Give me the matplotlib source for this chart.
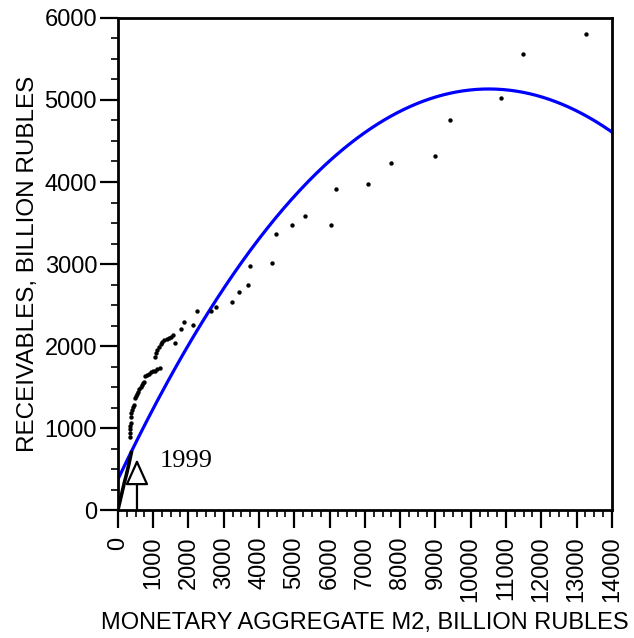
import matplotlib.pyplot as plt
import numpy as np
from matplotlib.ticker import MultipleLocator

# early 1990s observations, drawn as a thick connected trace
early_m2 = [0, 60, 120, 180, 240, 300, 350, 380]
early_recv = [0, 110, 220, 330, 430, 540, 640, 700]

# later observations (scatter)
m2 = [350, 350, 355, 355, 360, 370, 380, 395, 420, 445,
      490, 520, 550, 580, 610, 650, 690, 720, 740,
      780, 830, 880, 940, 1000, 1060, 1120, 1190,
      1050, 1070, 1100,
      1160, 1210, 1260, 1320, 1380, 1440, 1500, 1560, 1620,
      1780, 1860, 2130, 2240, 2640, 2770, 3220, 3430, 3690, 3730,
      4360, 4480, 4930, 5290, 6050, 6170, 7090, 7750, 8980, 9410,
      10850, 11490, 13260]
receivables = [890, 940, 990, 1030, 1060, 1140, 1180, 1220, 1260, 1285,
               1360, 1390, 1420, 1440, 1470, 1500, 1520, 1545, 1565,
               1630, 1650, 1660, 1680, 1690, 1700, 1720, 1730,
               1870, 1910, 1950,
               1990, 2020, 2050, 2070, 2090, 2100, 2110, 2130, 2040,
               2210, 2290, 2260, 2430, 2430, 2470, 2540, 2660, 2750, 2980,
               3010, 3370, 3470, 3580, 3480, 3910, 3980, 4230, 4320, 4750,
               5030, 5560, 5800]

# quadratic trend (highest power first)
trend_coef = [-4.308e-5, 0.9057, 374]

# annotation
mark_label = "1999"
mark_x = 540
mark_tip = 620

plt.rcParams['font.family'] = ['Liberation Sans', 'DejaVu Sans']

fig = plt.figure(figsize=(6.34, 6.38), dpi=100)
ax = fig.add_axes([0.186, 0.2006, 0.779, 0.7712])

xs = np.linspace(0, 14000, 300)
ax.plot(xs, np.polyval(trend_coef, xs), color='#0000ff', lw=2.3, zorder=2)
ax.plot(early_m2, early_recv, color='black', lw=2.6, zorder=3)
ax.scatter(m2, receivables, s=10, color='black', zorder=3, linewidths=0)

ax.annotate('', xy=(mark_x, mark_tip), xytext=(mark_x, 0),
            arrowprops=dict(arrowstyle='-|>,head_length=1.6,head_width=0.72',
                            mutation_scale=10, fc='white', ec='black', lw=1.6,
                            shrinkA=0, shrinkB=0), zorder=4)
ax.text(1190, 524, mark_label, family='Liberation Serif', fontsize=19,
        ha='left', va='baseline')

ax.set_xlim(0, 14000)
ax.set_ylim(0, 6000)
ax.xaxis.set_major_locator(MultipleLocator(1000))
ax.xaxis.set_minor_locator(MultipleLocator(250))
ax.yaxis.set_major_locator(MultipleLocator(1000))
ax.yaxis.set_minor_locator(MultipleLocator(250))
ax.tick_params(which='major', length=13, width=1.6, labelsize=17, direction='out')
ax.tick_params(which='minor', length=5, width=1.2, direction='out')
ax.tick_params(axis='y', which='major', pad=2)
ax.tick_params(axis='x', which='major', pad=6, labelrotation=90)

for sp in ax.spines.values():
    sp.set_linewidth(2)

ax.set_xlabel('MONETARY AGGREGATE M2, BILLION RUBLES', fontsize=17, labelpad=7)
ax.set_ylabel('RECEIVABLES, BILLION RUBLES', fontsize=17.5, labelpad=4)

plt.savefig('out.png', dpi=100)
plt.close()
